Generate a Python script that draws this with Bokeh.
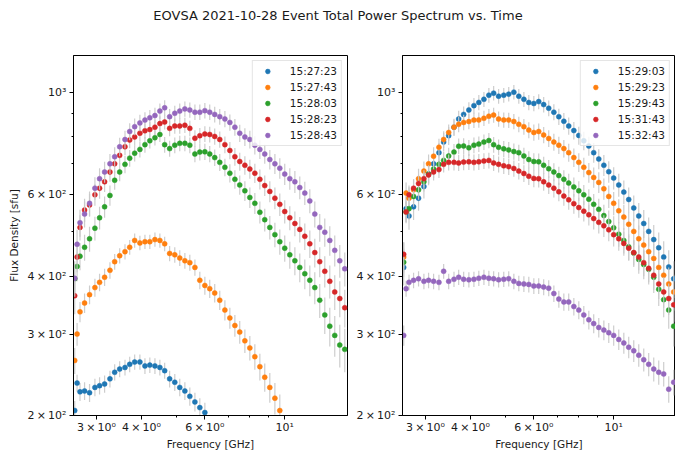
import numpy as np
from bokeh.plotting import figure
from bokeh.models import (ColumnDataSource, FixedTicker, CustomJSTickFormatter,
                          Legend, LegendItem, Label)
from bokeh.layouts import column, row
from bokeh.embed import file_html
from bokeh.resources import INLINE

TITLE = "EOVSA 2021-10-28 Event Total Power Spectrum vs. Time"
X_LABEL = "Frequency [GHz]"
Y_LABEL = "Flux Density [sfu]"

# Frequencies (GHz) shared by all spectra
freq_ghz = [2.61, 2.65, 2.70, 2.78, 2.87, 2.97, 3.06, 3.16, 3.27, 3.37, 3.48, 3.60,
            3.71, 3.83, 3.96, 4.09, 4.22, 4.36, 4.50, 4.64, 4.79, 4.95, 5.11, 5.28,
            5.45, 5.63, 5.81, 6.00, 6.19, 6.39, 6.60, 6.82, 7.04, 7.27, 7.50, 7.75,
            8.00, 8.26, 8.53, 8.80, 9.09, 9.39, 9.69, 10.0, 10.33, 10.67, 11.01, 11.37,
            11.74, 12.12, 12.51, 12.92, 13.34, 13.77, 14.22, 14.68]

N = None
# ---- left panel (sfu) ----
flux_152723 = [205, 235, 225, 226, 224, 230, 232, 234, 240, 248, 252, 254,
               258, 261, 261, 256, 257, 256, 254, 250, 240, 236, 230, 226,
               220, 214, 208, 203, N, N, N, N, N, N, N, N,
               N, N, N, N, N, N, N, N, N, N, N, N,
               N, N, N, N, N, N, N, N]
flux_152743 = [263, 300, 335, 350, 365, 378, 388, 398, 412, 430, 443, 452,
               462, 478, 472, 475, 475, 480, 478, 470, 448, 445, 438, 432,
               428, 418, 392, 382, 376, 368, 355, 338, 325, 313, 303, 290,
               280, 268, 255, 242, 230, 218, 205, N, N, N, N, N,
               N, N, N, N, N, N, N, N]
flux_152803 = [395, 420, 442, 462, 482, 508, 535, 565, 598, 645, 672, 698,
               720, 738, 752, 770, 785, 797, 810, 770, 755, 768, 775, 775,
               768, 735, 742, 743, 735, 722, 705, 688, 668, 648, 630, 612,
               592, 575, 550, 530, 510, 492, 475, 460, 445, 432, 418, 405,
               392, 378, 355, 330, 312, 298, 284, 278]
flux_152823 = [363, 440, 510, 556, 570, 600, 620, 640, 672, 700, 730, 762,
               788, 800, 815, 825, 830, 840, 855, 862, 835, 845, 845, 848,
               835, 795, 805, 812, 810, 802, 790, 770, 748, 725, 708, 695,
               682, 668, 648, 628, 610, 590, 572, 552, 535, 520, 505, 488,
               470, 450, 430, 410, 390, 370, 358, 342]
flux_152843 = [396, 469, 522, 545, 575, 620, 650, 672, 700, 725, 762, 790,
               822, 842, 858, 870, 880, 890, 910, 925, 885, 900, 910, 920,
               915, 905, 905, 912, 905, 895, 885, 875, 860, 840, 815, 800,
               790, 768, 752, 735, 715, 700, 685, 665, 650, 640, 622, 605,
               582, 545, 510, 498, 478, 455, 432, 415]
# ---- right panel (sfu) ----
flux_152903 = [418, 560, 540, 565, 590, 625, 665, 700, 740, 780, 805, 840,
               875, 895, 915, 935, 950, 965, 985, 995, 980, 985, 990, 1000,
               980, 965, 950, 945, 954, 940, 923, 905, 885, 865, 845, 826,
               806, 785, 765, 740, 717, 695, 673, 652, 630, 608, 586, 562,
               540, 520, 500, 480, 461, 440, 419, 395]
flux_152923 = [440, 605, 590, 615, 650, 675, 700, 727, 760, 790, 818, 840,
               852, 860, 864, 870, 871, 878, 887, 892, 875, 871, 870, 864,
               852, 842, 828, 818, 822, 808, 794, 780, 768, 755, 740, 722,
               705, 688, 670, 654, 638, 618, 595, 575, 554, 537, 518, 500,
               482, 467, 452, 437, 418, 402, 385, 370]
flux_152943 = [429, 551, 560, 595, 615, 640, 665, 682, 698, 712, 728, 742,
               764, 765, 758, 768, 772, 780, 786, 770, 760, 754, 750, 744,
               740, 728, 715, 708, 707, 695, 683, 672, 660, 648, 636, 624,
               612, 600, 587, 572, 558, 541, 525, 509, 493, 478, 463, 449,
               435, 424, 414, 398, 375, 356, 338, 312]
flux_153143 = [446, 551, 600, 620, 635, 650, 662, 672, 680, 698, 705, 705,
               703, 706, 707, 705, 707, 710, 712, 703, 698, 693, 690, 684,
               675, 667, 658, 651, 650, 640, 630, 620, 609, 596, 585, 574,
               563, 553, 543, 533, 523, 514, 504, 492, 482, 471, 460, 450,
               440, 428, 416, 402, 385, 370, 358, 347]
flux_153243 = [298, 376, 388, 392, 395, 390, 392, 390, 388, 410, 390, 394,
               398, 394, 393, 394, 396, 398, 396, 395, 393, 394, 395, 390,
               386, 385, 384, 381, 381, 379, 377, 367, 357, 352, 352, 344,
               338, 330, 322, 316, 310, 306, 302, 298, 292, 287, 281, 276,
               270, 264, 258, 252, 248, 246, 228, 236]

left_labels = ["15:27:23", "15:27:43", "15:28:03", "15:28:23", "15:28:43"]
right_labels = ["15:29:03", "15:29:23", "15:29:43", "15:31:43", "15:32:43"]
left_errors = [10, 17, 30, 32, 35]      # typical 1-sigma error bar (sfu)
right_errors = [36, 33, 30, 28, 15]

x_ticks = [3, 4, 6, 10]
x_tick_labels = ["3\u2009×\u200910⁰", "4\u2009×\u200910⁰", "6\u2009×\u200910⁰", "10¹"]
x_minor = [5, 7, 8, 9]
y_ticks = [200, 300, 400, 600, 1000]
y_tick_labels = ["2\u2009×\u200910²", "3\u2009×\u200910²", "4\u2009×\u200910²",
                 "6\u2009×\u200910²", "10³"]
y_minor = [500, 700, 800, 900]

COLORS = ["#1f77b4", "#ff7f0e", "#2ca02c", "#d62728", "#9467bd"]
FONT = "DejaVu Sans"
FS = "10.5px"
TICK_FS = "11px"

FMT_CODE = "const i = vals.indexOf(tick); return i >= 0 ? labs[i] : '';"


def make_panel(width, border_left, border_right, x_max, series, labels, errs, ylabel):
    p = figure(width=width, height=414, x_axis_type="log", y_axis_type="log",
               x_range=(2.59, x_max), y_range=(200, 1200),
               toolbar_location=None, output_backend="svg",
               min_border_left=border_left, min_border_right=border_right,
               min_border_top=15, min_border_bottom=39)
    p.xgrid.visible = False
    p.ygrid.visible = False
    p.outline_line_color = "black"
    p.outline_line_alpha = 1.0
    p.background_fill_color = "white"
    p.border_fill_color = "white"

    p.xaxis.ticker = FixedTicker(ticks=x_ticks, minor_ticks=x_minor)
    p.xaxis.formatter = CustomJSTickFormatter(args=dict(vals=x_ticks, labs=x_tick_labels),
                                              code=FMT_CODE)
    p.yaxis.ticker = FixedTicker(ticks=y_ticks, minor_ticks=y_minor)
    p.yaxis.formatter = CustomJSTickFormatter(args=dict(vals=y_ticks, labs=y_tick_labels),
                                              code=FMT_CODE)
    for ax in p.axis:
        ax.axis_line_color = "black"
        ax.major_tick_line_color = "black"
        ax.minor_tick_line_color = "black"
        ax.major_tick_out = 4
        ax.major_tick_in = 0
        ax.minor_tick_out = 2
        ax.minor_tick_in = 0
        ax.major_label_standoff = 3
        ax.major_label_text_font = FONT
        ax.major_label_text_font_size = TICK_FS
        ax.major_label_text_color = "#1a1a1a"
        ax.axis_label_text_font = FONT
        ax.axis_label_text_font_size = FS
        ax.axis_label_text_font_style = "normal"
        ax.axis_label_text_color = "#1a1a1a"
        ax.axis_label_standoff = 4
    p.xaxis.major_label_standoff = 1
    p.xaxis.axis_label_standoff = 1
    p.xaxis.axis_label = X_LABEL
    if ylabel:
        p.yaxis.axis_label = Y_LABEL

    f = np.array(freq_ghz, dtype=float)
    items = []
    for vals, lab, err, col in zip(series, labels, errs, COLORS):
        y = np.array(vals, dtype=float)
        src = ColumnDataSource(dict(f=f, y=y, lo=y - err, hi=y + err))
        p.segment(x0="f", y0="lo", x1="f", y1="hi", source=src,
                  line_color="#c8c8c8", line_width=1.2, line_alpha=0.9)
        r = p.scatter(x="f", y="y", source=src, size=5, fill_color=col,
                      line_color=col, line_width=0.5)
        items.append(LegendItem(label=lab, renderers=[r]))
    legend = Legend(items=items, location="top_right", margin=5, padding=4, spacing=4,
                    glyph_width=21, glyph_height=12, label_height=12, label_standoff=12,
                    label_text_font=FONT, label_text_font_size=FS,
                    label_text_color="#1a1a1a",
                    border_line_color="#cccccc", border_line_width=1,
                    background_fill_color="white", background_fill_alpha=0.8)
    p.add_layout(legend)
    return p


p1 = make_panel(350, 73, 3, 14.94,
                [flux_152723, flux_152743, flux_152803, flux_152823, flux_152843],
                left_labels, left_errors, True)
p2 = make_panel(325, 52, 0, 14.85,
                [flux_152903, flux_152923, flux_152943, flux_153143, flux_153243],
                right_labels, right_errors, False)

t = figure(width=675, height=40, toolbar_location=None, output_backend="svg",
           x_range=(0, 1), y_range=(0, 1), min_border=0)
t.axis.visible = False
t.grid.visible = False
t.outline_line_color = None
t.add_layout(Label(x=337.5, y=25, x_units="screen", y_units="screen", text=TITLE,
                   text_align="center", text_baseline="middle", text_font=FONT,
                   text_font_size="13px", text_color="#1a1a1a"))

layout = column(t, row(p1, p2))
open("out.html", "w").write(file_html(layout, INLINE))
